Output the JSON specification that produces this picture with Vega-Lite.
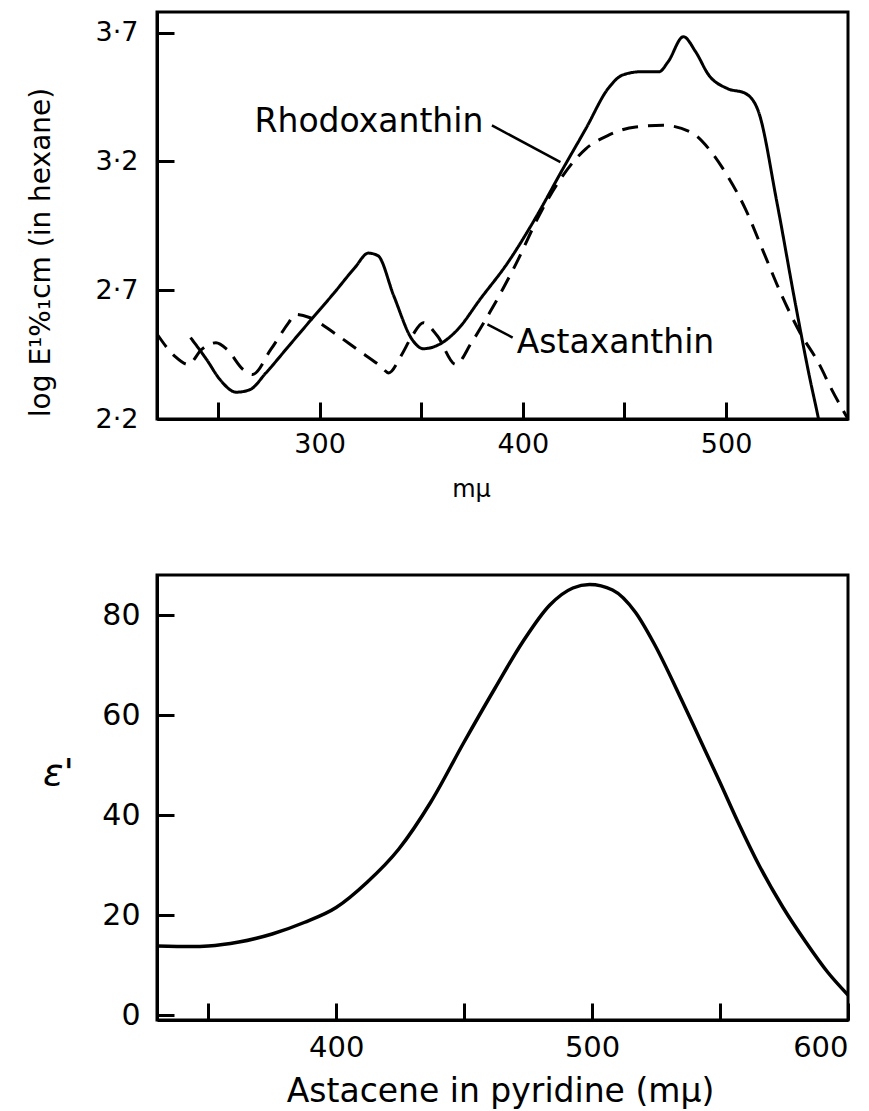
{
  "$schema": "https://vega.github.io/schema/vega-lite/v6.json",
  "padding": {"left": 25, "top": 10, "right": 5, "bottom": 5},
  "background": "white",
  "spacing": 70,
  "config": {
    "view": {"stroke": "black", "strokeWidth": 3},
    "axis": {
      "grid": false,
      "domainColor": "black",
      "domainWidth": 3,
      "tickColor": "black",
      "tickWidth": 3,
      "tickSize": -17,
      "labelFont": "DejaVu Sans",
      "labelFontSize": 27,
      "labelColor": "black",
      "titleFont": "DejaVu Sans",
      "titleFontWeight": "normal",
      "titleColor": "black"
    }
  },
  "datasets": {
    "top": [
      {"sp": "Rhodoxanthin", "wl": 236.5, "v": 2.516},
      {"sp": "Rhodoxanthin", "wl": 244.4, "v": 2.431},
      {"sp": "Rhodoxanthin", "wl": 251, "v": 2.353},
      {"sp": "Rhodoxanthin", "wl": 259, "v": 2.304},
      {"sp": "Rhodoxanthin", "wl": 265.7, "v": 2.314},
      {"sp": "Rhodoxanthin", "wl": 273.6, "v": 2.379},
      {"sp": "Rhodoxanthin", "wl": 284.8, "v": 2.483},
      {"sp": "Rhodoxanthin", "wl": 296, "v": 2.587},
      {"sp": "Rhodoxanthin", "wl": 307.3, "v": 2.691},
      {"sp": "Rhodoxanthin", "wl": 317.4, "v": 2.788},
      {"sp": "Rhodoxanthin", "wl": 324, "v": 2.844},
      {"sp": "Rhodoxanthin", "wl": 328.7, "v": 2.834},
      {"sp": "Rhodoxanthin", "wl": 336.5, "v": 2.678},
      {"sp": "Rhodoxanthin", "wl": 345.5, "v": 2.509},
      {"sp": "Rhodoxanthin", "wl": 351, "v": 2.473},
      {"sp": "Rhodoxanthin", "wl": 359, "v": 2.49},
      {"sp": "Rhodoxanthin", "wl": 368, "v": 2.548},
      {"sp": "Rhodoxanthin", "wl": 379, "v": 2.665},
      {"sp": "Rhodoxanthin", "wl": 392.7, "v": 2.808},
      {"sp": "Rhodoxanthin", "wl": 406, "v": 2.977},
      {"sp": "Rhodoxanthin", "wl": 419.7, "v": 3.171},
      {"sp": "Rhodoxanthin", "wl": 431, "v": 3.327},
      {"sp": "Rhodoxanthin", "wl": 442, "v": 3.483},
      {"sp": "Rhodoxanthin", "wl": 449, "v": 3.535},
      {"sp": "Rhodoxanthin", "wl": 458, "v": 3.548},
      {"sp": "Rhodoxanthin", "wl": 467, "v": 3.548},
      {"sp": "Rhodoxanthin", "wl": 471.5, "v": 3.587},
      {"sp": "Rhodoxanthin", "wl": 479, "v": 3.684},
      {"sp": "Rhodoxanthin", "wl": 485, "v": 3.626},
      {"sp": "Rhodoxanthin", "wl": 491.5, "v": 3.535},
      {"sp": "Rhodoxanthin", "wl": 500.6, "v": 3.483},
      {"sp": "Rhodoxanthin", "wl": 509.5, "v": 3.464},
      {"sp": "Rhodoxanthin", "wl": 516, "v": 3.392},
      {"sp": "Rhodoxanthin", "wl": 525, "v": 3.042},
      {"sp": "Rhodoxanthin", "wl": 534, "v": 2.652},
      {"sp": "Rhodoxanthin", "wl": 541, "v": 2.366},
      {"sp": "Rhodoxanthin", "wl": 545.5, "v": 2.2},
      {"sp": "Rhodoxanthin", "wl": 548, "v": 2.1},
      {"sp": "Astaxanthin", "wl": 220, "v": 2.53},
      {"sp": "Astaxanthin", "wl": 228.7, "v": 2.444},
      {"sp": "Astaxanthin", "wl": 235.4, "v": 2.412},
      {"sp": "Astaxanthin", "wl": 242, "v": 2.47},
      {"sp": "Astaxanthin", "wl": 249, "v": 2.496},
      {"sp": "Astaxanthin", "wl": 254.5, "v": 2.47},
      {"sp": "Astaxanthin", "wl": 262.4, "v": 2.392},
      {"sp": "Astaxanthin", "wl": 267, "v": 2.373},
      {"sp": "Astaxanthin", "wl": 276, "v": 2.47},
      {"sp": "Astaxanthin", "wl": 284.8, "v": 2.574},
      {"sp": "Astaxanthin", "wl": 288, "v": 2.606},
      {"sp": "Astaxanthin", "wl": 295, "v": 2.594},
      {"sp": "Astaxanthin", "wl": 307, "v": 2.535},
      {"sp": "Astaxanthin", "wl": 318.5, "v": 2.47},
      {"sp": "Astaxanthin", "wl": 330, "v": 2.405},
      {"sp": "Astaxanthin", "wl": 334, "v": 2.379},
      {"sp": "Astaxanthin", "wl": 340, "v": 2.444},
      {"sp": "Astaxanthin", "wl": 345.5, "v": 2.522},
      {"sp": "Astaxanthin", "wl": 351, "v": 2.574},
      {"sp": "Astaxanthin", "wl": 358, "v": 2.522},
      {"sp": "Astaxanthin", "wl": 367, "v": 2.412},
      {"sp": "Astaxanthin", "wl": 374.7, "v": 2.496},
      {"sp": "Astaxanthin", "wl": 383.7, "v": 2.613},
      {"sp": "Astaxanthin", "wl": 397, "v": 2.808},
      {"sp": "Astaxanthin", "wl": 408, "v": 2.99},
      {"sp": "Astaxanthin", "wl": 419.7, "v": 3.145},
      {"sp": "Astaxanthin", "wl": 431, "v": 3.249},
      {"sp": "Astaxanthin", "wl": 442, "v": 3.301},
      {"sp": "Astaxanthin", "wl": 455.6, "v": 3.334},
      {"sp": "Astaxanthin", "wl": 469, "v": 3.34},
      {"sp": "Astaxanthin", "wl": 482.6, "v": 3.314},
      {"sp": "Astaxanthin", "wl": 491.5, "v": 3.249},
      {"sp": "Astaxanthin", "wl": 500.6, "v": 3.145},
      {"sp": "Astaxanthin", "wl": 509.5, "v": 3.016},
      {"sp": "Astaxanthin", "wl": 518.5, "v": 2.847},
      {"sp": "Astaxanthin", "wl": 527.5, "v": 2.678},
      {"sp": "Astaxanthin", "wl": 536.4, "v": 2.535},
      {"sp": "Astaxanthin", "wl": 545.5, "v": 2.418},
      {"sp": "Astaxanthin", "wl": 552, "v": 2.314},
      {"sp": "Astaxanthin", "wl": 560, "v": 2.2}
    ],
    "leaders": [
      {"wl": 384.8, "v": 3.34, "wl2": 418.5, "v2": 3.197},
      {"wl": 382.6, "v": 2.567, "wl2": 395, "v2": 2.516}
    ],
    "labels": [
      {"label": "Rhodoxanthin", "wl": 268, "v": 3.353},
      {"label": "Astaxanthin", "wl": 397, "v": 2.496}
    ],
    "bottom": [
      {"wl": 330, "e": 13.8},
      {"wl": 343.5, "e": 13.7},
      {"wl": 350, "e": 13.8},
      {"wl": 362, "e": 14.6},
      {"wl": 375, "e": 16.2},
      {"wl": 387.5, "e": 18.5},
      {"wl": 400, "e": 21.5},
      {"wl": 412, "e": 26.5},
      {"wl": 424.5, "e": 33.2},
      {"wl": 437, "e": 42.6},
      {"wl": 450, "e": 54.6},
      {"wl": 462, "e": 65.3},
      {"wl": 473, "e": 74.7},
      {"wl": 483.5, "e": 82},
      {"wl": 492.5, "e": 85.4},
      {"wl": 499, "e": 86.1},
      {"wl": 508, "e": 85},
      {"wl": 517, "e": 80.5},
      {"wl": 524, "e": 74.5},
      {"wl": 535, "e": 63},
      {"wl": 542, "e": 55.3},
      {"wl": 550, "e": 46.5},
      {"wl": 557, "e": 38.6},
      {"wl": 565.5, "e": 29.7},
      {"wl": 574.5, "e": 21.6},
      {"wl": 583.5, "e": 14.6},
      {"wl": 592, "e": 8.6},
      {"wl": 600, "e": 4}
    ]
  },
  "vconcat": [
    {
      "width": 691,
      "height": 407,
      "encoding": {
        "x": {
          "field": "wl", "type": "quantitative",
          "scale": {"domain": [220, 560], "nice": false, "zero": false},
          "axis": {
            "values": [250, 300, 350, 400, 450, 500],
            "labelExpr": "datum.value % 100 === 0 ? datum.label : ''",
            "labelPadding": 29,
            "title": "mμ",
            "titleFontSize": 24,
            "titleX": 314,
            "titleY": 70,
            "titleBaseline": "middle"
          }
        },
        "y": {
          "field": "v", "type": "quantitative",
          "scale": {"domain": [2.2, 3.78], "nice": false, "zero": false},
          "axis": {
            "values": [2.2, 2.7, 3.2, 3.7],
            "format": ".1f",
            "labelExpr": "replace(datum.label, '.', '·')",
            "labelPadding": 36,
            "title": "log E¹%₁cm  (in hexane)",
            "titleFontSize": 28,
            "titleAngle": -90,
            "titleX": -116,
            "titleY": 240,
            "titleAlign": "center",
            "titleBaseline": "middle"
          }
        }
      },
      "layer": [
        {
          "data": {"name": "top"},
          "mark": {"type": "line", "interpolate": "monotone", "color": "black", "strokeWidth": 3, "clip": true},
          "encoding": {
            "detail": {"field": "sp"},
            "strokeDash": {
              "field": "sp", "type": "nominal",
              "scale": {"domain": ["Rhodoxanthin", "Astaxanthin"], "range": [[1, 0], [16, 10]]},
              "legend": null
            }
          }
        },
        {
          "data": {"name": "leaders"},
          "mark": {"type": "rule", "color": "black", "strokeWidth": 2.5},
          "encoding": {
            "x2": {"field": "wl2"},
            "y2": {"field": "v2"}
          }
        },
        {
          "data": {"name": "labels"},
          "mark": {"type": "text", "align": "left", "baseline": "middle", "font": "DejaVu Sans", "fontSize": 33, "color": "black"},
          "encoding": {
            "text": {"field": "label"}
          }
        }
      ]
    },
    {
      "width": 691,
      "height": 445,
      "data": {"name": "bottom"},
      "mark": {"type": "line", "interpolate": "monotone", "color": "black", "strokeWidth": 3.5, "clip": true},
      "encoding": {
        "x": {
          "field": "wl", "type": "quantitative",
          "scale": {"domain": [330, 600], "nice": false, "zero": false},
          "axis": {
            "values": [350, 400, 450, 500, 550, 600],
            "labelExpr": "datum.value % 100 === 0 ? datum.label : ''",
            "labelPadding": 30,
            "labelFlush": true,
            "labelFontSize": 29,
            "title": "Astacene in pyridine (mμ)",
            "titleFontSize": 33,
            "titleX": 343,
            "titleY": 71,
            "titleBaseline": "middle"
          }
        },
        "y": {
          "field": "e", "type": "quantitative",
          "scale": {"domain": [-1, 88], "nice": false, "zero": false},
          "axis": {
            "values": [0, 20, 40, 60, 80],
            "labelPadding": 34,
            "labelFontSize": 30,
            "title": "ε'",
            "titleFontSize": 38,
            "titleFontStyle": "italic",
            "titleAngle": 0,
            "titleX": -99,
            "titleY": 198,
            "titleAlign": "center",
            "titleBaseline": "middle"
          }
        }
      }
    }
  ]
}
